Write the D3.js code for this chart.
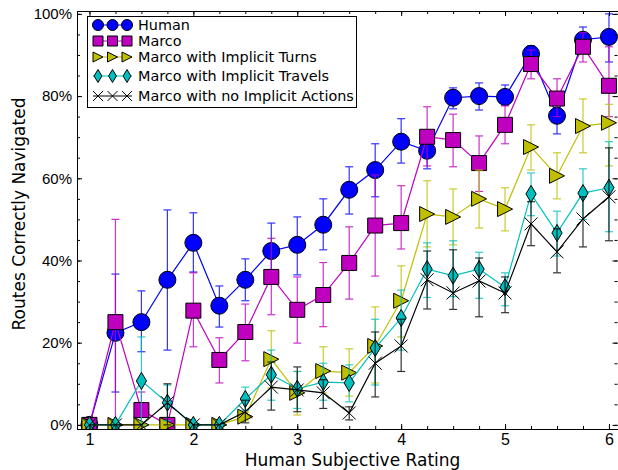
<!DOCTYPE html>
<html>
<head>
<meta charset="utf-8">
<script src="https://cdn.jsdelivr.net/npm/d3@7"></script>
<style>
  body { margin: 0; background: #fff; }
  svg { display: block; font-family: "DejaVu Sans", sans-serif; }
</style>
</head>
<body>
<div id="main"></div>
<script>
const ctx = {
    w: 618,
    h: 470,
    left: 77,
    right: 618,
    top: 11,
    bottom: 429,
};

// subjective rating bins
const RATINGS = [1, 1.25, 1.5, 1.75, 2, 2.25, 2.5, 2.75, 3, 3.25, 3.5, 3.75, 4, 4.25, 4.5, 4.75, 5, 5.25, 5.5, 5.75, 6];

// % of routes navigated, with error bar ends
const HUMAN    = [0, 22.4, 25, 35.3, 44.3, 29, 35.3, 42.3, 43.8, 48.7, 57.2, 62, 68.9, 66.7, 79.6, 80, 79.8, 90.3, 75.2, 93.7, 94.4];
const HUMAN_HI = [0, 36.7, 32.6, 52.3, 51.6, 33.8, 40.4, 49.1, 50.6, 55, 62.8, 68.4, 74.5, 71, 82, 83.2, 82.7, 92.2, 78, 96.8, 100];
const HUMAN_LO = [0, 8, 17.8, 18.2, 37.2, 23.8, 30.2, 35.5, 36.5, 42.6, 51.3, 55.5, 63.7, 62.3, 76.9, 76.6, 77.8, 89, 70.8, 92.5, 88.3];

const MARCO    = [0, 25, 3.6, 0, 27.8, 15.8, 22.6, 36, 28, 31.6, 39.4, 48.5, 49.1, 70.1, 69.3, 63.7, 73, 87.8, 79.4, 92, 82.5];
const MARCO_HI = [0, 50, 8, 0, 37, 21.2, 29.4, 45.4, 36, 39.5, 48.2, 60.8, 58.2, 77.4, 75.6, 70.3, 77.6, 91.2, 84.2, 95.4, 92];
const MARCO_LO = [0, 0, 0, 0, 19, 10.2, 15.6, 26.8, 19.9, 23.9, 30.6, 36.2, 42.8, 63, 62.8, 56.8, 68.4, 84.2, 75, 88.3, 75];

const TURNS    = [0, 0, 0, 0, 0, 0, 2, 16, 7.8, 13.1, 12.7, 19.2, 30.2, 51.3, 50.6, 55, 52.5, 67.6, 60.6, 72.7, 73.5];
const TURNS_HI = [0, 0, 0, 0, 0, 0, 3, 22.9, 13, 19, 18.5, 28.7, 38.7, 59.4, 57.4, 62, 57.7, 73, 66.2, 79.3, 78];
const TURNS_LO = [0, 0, 0, 0, 0, 0, 1, 9, 2.4, 7.8, 7, 10.2, 21.4, 43.3, 43.8, 47.9, 47.2, 62, 55, 66.2, 63];

const TRAVELS    = [0, 0, 10.7, 5.4, 0, 0, 6.3, 12.2, 8.8, 10.4, 10.2, 18.7, 26, 37.9, 36.3, 37.9, 33.5, 56.2, 46.7, 56.4, 57.7];
const TRAVELS_HI = [0, 0, 21.4, 9.7, 0, 0, 9.2, 18.2, 13, 15, 14.6, 25.7, 32.8, 44.3, 44.8, 42, 37, 61.3, 52, 62.3, 68.9];
const TRAVELS_LO = [0, 0, 0, 1, 0, 0, 3.6, 6, 4, 6, 5.6, 9.7, 18.2, 31, 31.2, 30.8, 29, 50.9, 41.1, 50, 47];

const NO_IMPLICIT    = [0, 0, 0, 5.4, 0, 0, 3.2, 9.2, 8.5, 7.8, 2.9, 15, 19.2, 35.3, 32.1, 35, 32.1, 48.9, 42.1, 50.1, 55.5];
const NO_IMPLICIT_HI = [0, 0, 0, 10, 0, 0, 6, 15.3, 14.1, 11, 4.4, 22.6, 25.7, 42.3, 42.6, 40.6, 36, 54.3, 47.7, 55.5, 67.4];
const NO_IMPLICIT_LO = [0, 0, 0, 0, 0, 0, 0.5, 3.6, 3.2, 4, 1.2, 6.8, 13, 28.2, 28.1, 26.3, 27.3, 43.6, 37, 43.3, 44.8];

const SERIES_NAMES = ["Human", "Marco", "Marco with Implicit Turns", "Marco with Implicit Travels", "Marco with no Implicit Actions"];

const X_TICKS = [1, 2, 3, 4, 5, 6];
const X_TICK_LABELS = ["1", "2", "3", "4", "5", "6"];
const Y_TICKS = [0, 20, 40, 60, 80, 100];
const Y_TICK_LABELS = ["0%", "20%", "40%", "60%", "80%", "100%"];

const series = [
    {name: SERIES_NAMES[0], v: HUMAN, lo: HUMAN_LO, hi: HUMAN_HI, color: "#0000ff", marker: "circle"},
    {name: SERIES_NAMES[1], v: MARCO, lo: MARCO_LO, hi: MARCO_HI, color: "#bf00bf", marker: "square"},
    {name: SERIES_NAMES[2], v: TURNS, lo: TURNS_LO, hi: TURNS_HI, color: "#bfbf00", marker: "triangle"},
    {name: SERIES_NAMES[3], v: TRAVELS, lo: TRAVELS_LO, hi: TRAVELS_HI, color: "#00bfbf", marker: "diamond"},
    {name: SERIES_NAMES[4], v: NO_IMPLICIT, lo: NO_IMPLICIT_LO, hi: NO_IMPLICIT_HI, color: "#000000", marker: "x"},
];

const x = d3.scaleLinear().domain([0.88, 6.087]).range([ctx.left, ctx.right]);
const y = d3.scaleLinear().domain([-1, 100.7]).range([ctx.bottom, ctx.top]);

// marker outlines centred on 0,0; s = full size in px
function markerPath(type, s) {
    let h = s / 2;
    if (type == "circle") {
        return `M${-h},0a${h},${h} 0 1,0 ${s},0a${h},${h} 0 1,0 ${-s},0Z`;
    }
    if (type == "square") {
        return `M${-h},${-h}h${s}v${s}h${-s}Z`;
    }
    if (type == "triangle") {
        return `M${h},0L${-h},${-h}L${-h},${h}Z`;
    }
    if (type == "diamond") {
        return `M0,${-h}L${0.6*h},0L0,${h}L${-0.6*h},0Z`;
    }
    return `M${-h},${-h}L${h},${h}M${-h},${h}L${h},${-h}`;
}

const MARKER_SIZE = {circle: 17, square: 15, triangle: 15, diamond: 17, x: 13};
const LEGEND_SIZE = {circle: 11, square: 10, triangle: 10, diamond: 13, x: 10};

function drawMarkers(g, type, color, pts, size) {
    let isX = type == "x";
    g.selectAll("path.marker")
        .data(pts)
        .enter()
        .append("path")
        .attr("class", "marker")
        .attr("d", markerPath(type, size))
        .attr("transform", d => `translate(${d[0]},${d[1]})`)
        .style("fill", isX ? "none" : color)
        .style("stroke", "#000")
        .style("stroke-width", 1);
}

function drawAxes(svgEl) {
    let axes = svgEl.append("g").attr("id", "axes");
    let minor = d3.range(1, 6.01, 0.25);
    let minorY = d3.range(0, 100.1, 5);

    let bottom = axes.append("g")
        .attr("transform", `translate(0,${ctx.bottom})`)
        .call(d3.axisBottom(x).tickValues(X_TICKS).tickSize(-5).tickPadding(5)
              .tickFormat((d, i) => X_TICK_LABELS[i]));
    axes.append("g")
        .attr("transform", `translate(0,${ctx.bottom})`)
        .call(d3.axisBottom(x).tickValues(minor).tickSize(-3).tickFormat(""));
    axes.append("g")
        .attr("transform", `translate(0,${ctx.top})`)
        .call(d3.axisTop(x).tickValues(X_TICKS).tickSize(-5).tickFormat(""));
    axes.append("g")
        .attr("transform", `translate(0,${ctx.top})`)
        .call(d3.axisTop(x).tickValues(minor).tickSize(-3).tickFormat(""));

    let left = axes.append("g")
        .attr("transform", `translate(${ctx.left},0)`)
        .call(d3.axisLeft(y).tickValues(Y_TICKS).tickSize(-5).tickPadding(5)
              .tickFormat((d, i) => Y_TICK_LABELS[i]));
    axes.append("g")
        .attr("transform", `translate(${ctx.left},0)`)
        .call(d3.axisLeft(y).tickValues(minorY).tickSize(-3).tickFormat(""));
    axes.append("g")
        .attr("transform", `translate(${ctx.right - 0.5},0)`)
        .call(d3.axisRight(y).tickValues(Y_TICKS).tickSize(-5).tickFormat(""));
    axes.append("g")
        .attr("transform", `translate(${ctx.right - 0.5},0)`)
        .call(d3.axisRight(y).tickValues(minorY).tickSize(-3).tickFormat(""));

    axes.selectAll(".domain").remove();
    axes.selectAll(".tick line").style("stroke", "#000");
    bottom.selectAll("text").style("font-size", "16px").style("fill", "#000");
    left.selectAll("text").style("font-size", "15px").style("fill", "#000");

    axes.append("rect")
        .attr("x", ctx.left + 0.5)
        .attr("y", ctx.top + 0.5)
        .attr("width", ctx.right - ctx.left)
        .attr("height", ctx.bottom - ctx.top)
        .style("fill", "none")
        .style("stroke", "#000")
        .style("stroke-width", 1);

    svgEl.append("text")
        .attr("x", (ctx.left + ctx.right) / 2 + 5)
        .attr("y", 466)
        .attr("text-anchor", "middle")
        .style("font-size", "17px")
        .text("Human Subjective Rating");
    svgEl.append("text")
        .attr("transform", `translate(25,214) rotate(-90)`)
        .attr("text-anchor", "middle")
        .style("font-size", "17px")
        .text("Routes Correctly Navigated");
}

function drawSeries(svgEl) {
    svgEl.append("clipPath").attr("id", "plotClip")
        .append("rect")
        .attr("x", ctx.left)
        .attr("y", ctx.top)
        .attr("width", ctx.right - ctx.left)
        .attr("height", ctx.bottom - ctx.top);

    let plot = svgEl.append("g").attr("id", "series").attr("clip-path", "url(#plotClip)");
    let line = d3.line().x(d => d[0]).y(d => d[1]);

    series.forEach(function(s) {
        let g = plot.append("g");
        let pts = RATINGS.map((r, i) => [x(r), y(s.v[i])]);

        // error bars
        let bars = RATINGS.map((r, i) => ({cx: x(r), lo: y(s.lo[i]), hi: y(s.hi[i]), ok: s.hi[i] > s.lo[i]}))
                          .filter(d => d.ok);
        let eb = g.append("g").style("stroke", s.color).style("stroke-width", 1.2).style("opacity", 0.8);
        bars.forEach(function(d) {
            eb.append("line").attr("x1", d.cx).attr("x2", d.cx).attr("y1", d.lo).attr("y2", d.hi);
            eb.append("line").attr("x1", d.cx - 4).attr("x2", d.cx + 4).attr("y1", d.lo).attr("y2", d.lo);
            eb.append("line").attr("x1", d.cx - 4).attr("x2", d.cx + 4).attr("y1", d.hi).attr("y2", d.hi);
        });

        g.append("path")
            .attr("d", line(pts))
            .style("fill", "none")
            .style("stroke", s.color)
            .style("stroke-width", 1.2);
        drawMarkers(g, s.marker, s.color, pts, MARKER_SIZE[s.marker]);
    });
}

function drawLegend(svgEl) {
    let leg = svgEl.append("g").attr("id", "legend");
    let rowsY = [25, 41, 57, 76, 96];
    leg.append("rect")
        .attr("x", 87.5)
        .attr("y", 16.5)
        .attr("width", 269)
        .attr("height", 91)
        .style("fill", "#fff")
        .style("stroke", "#000")
        .style("stroke-width", 1);
    series.forEach(function(s, i) {
        let ry = rowsY[i];
        let g = leg.append("g");
        g.append("line")
            .attr("x1", 93).attr("x2", 132)
            .attr("y1", ry).attr("y2", ry)
            .style("stroke", s.color)
            .style("stroke-width", 1.2);
        drawMarkers(g, s.marker, s.color, [[98, ry], [112.5, ry], [127, ry]], LEGEND_SIZE[s.marker]);
        g.append("text")
            .attr("x", 138)
            .attr("y", ry)
            .attr("dy", "0.36em")
            .style("font-size", "14.4px")
            .text(s.name);
    });
}

function createViz() {
    let svgEl = d3.select("#main").append("svg")
        .attr("width", ctx.w)
        .attr("height", ctx.h);
    drawSeries(svgEl);
    drawAxes(svgEl);
    drawLegend(svgEl);
}

createViz();
</script>
</body>
</html>
